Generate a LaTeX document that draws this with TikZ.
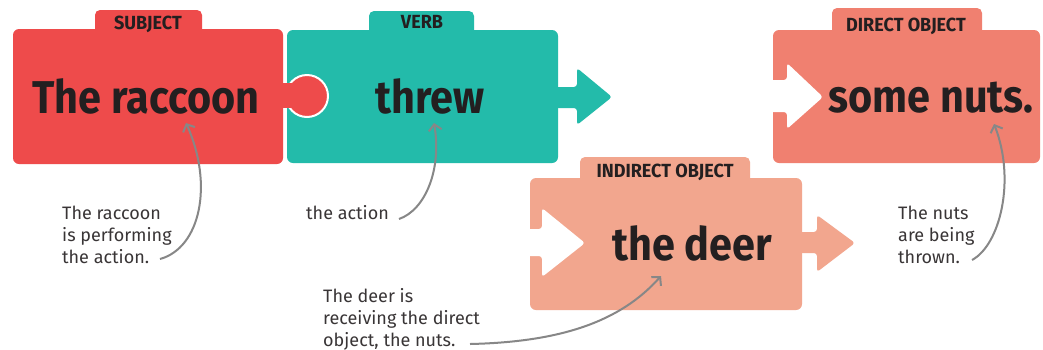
\documentclass[tikz,border=0pt]{standalone}
\usepackage{fontspec}
\setmainfont{Fira Sans}
\newfontfamily\condf[FakeStretch=0.9]{Fira Sans}
\newfontfamily\labf[FakeStretch=0.95]{Fira Sans}
\usetikzlibrary{arrows.meta}
\definecolor{cred}{RGB}{238,75,75}
\definecolor{cteal}{RGB}{35,187,170}
\definecolor{cdo}{RGB}{240,128,112}
\definecolor{cio}{RGB}{242,166,142}
\definecolor{cgray}{RGB}{135,135,135}
\definecolor{ctext}{RGB}{35,31,32}
\begin{document}
\begin{tikzpicture}[x=1pt,y=-1pt,
 word/.style={font=\condf\bfseries\fontsize{46}{50}\selectfont, text=ctext, inner sep=0, anchor=base},
 tag/.style={font=\labf\bfseries\fontsize{19}{21}\selectfont, text=ctext, inner sep=0, anchor=base},
 note/.style={font=\fontsize{18}{22}\selectfont, text=ctext!90, inner sep=0, align=left, anchor=base west},
 pointer/.style={draw=cgray, line width=2pt, -{Straight Barb[length=6pt,width=13pt]}},
 knobround/.style={rounded corners=3pt},
]
\useasboundingbox (0,0) rectangle (1043,349);
\fill[white] (0,0) rectangle (1043,349);

% verb piece (teal)
\fill[cteal, rounded corners=6pt] (287,30) rectangle (558,163);
\fill[cteal, rounded corners=5pt] (369,11) rectangle (474,40);
\fill[cteal, knobround] (550,87) -- (577,87) -- (577,68) -- (612,97) -- (577,125) -- (577,108) -- (550,108) -- cycle;

% subject piece (red)
\fill[cred, draw=white, line width=2pt] (307,96) circle[radius=21pt];
\fill[cred] (275,83) rectangle (296,108);
\fill[cred, rounded corners=6pt] (13,29) rectangle (283,164);
\fill[cred, rounded corners=5pt] (95,10) rectangle (202,40);

% direct object piece
\fill[cdo, rounded corners=6pt] (773,30) rectangle (1040,163);
\fill[cdo, rounded corners=5pt] (832,8) rectangle (982,40);
\fill[white, knobround] (760,80) -- (787,80) -- (787,63) -- (823,97) -- (787,129) -- (787,112) -- (760,112) -- cycle;

% indirect object piece
\fill[cio, rounded corners=6pt] (530,178) rectangle (802,310);
\fill[cio, rounded corners=5pt] (580,157) rectangle (750,190);
\fill[white, knobround] (520,229) -- (542,229) -- (542,208) -- (585,243) -- (542,277) -- (542,256) -- (520,256) -- cycle;
\fill[cio, knobround] (795,232) -- (817,232) -- (817,215) -- (855,243) -- (817,272) -- (817,253) -- (795,253) -- cycle;

% tab labels
\node[tag] (tsub) at (148,29) {SUBJECT};
\node[tag] (tverb) at (422,28) {VERB};
\node[tag] (tdo) at (906,31) {DIRECT OBJECT};
\node[tag] (tio) at (665,177) {INDIRECT OBJECT};

% words
\node[word] (wsub) at (146,113) {The raccoon};
\node[word] (wverb) at (430,113) {threw};
\node[word] (wdo) at (931,112) {some nuts.};
\node[word] (wio) at (692,260) {the deer};

% notes
\node[note] (nsub) at (62,263) {The raccoon\\is performing\\the action.};
\node[note] (nverb) at (306,219) {the action};
\node[note] (nio) at (323,346) {The deer is\\receiving the direct\\object, the nuts.};
\node[note] (ndo) at (898,263) {The nuts\\are being\\thrown.};

% pointer ends
\coordinate (psubs) at (160,259);
\coordinate (psube) at (186,123);
\coordinate (pverbs) at (399,219);
\coordinate (pverbe) at (434,123);
\coordinate (pios) at (470,344);
\coordinate (pioe) at (661,276);
\coordinate (pdos) at (972,260);
\coordinate (pdoe) at (994,124);

\draw[pointer] (psubs) .. controls (200,248) and (214,185) .. (psube);
\draw[pointer] (pverbs) .. controls (425,210) and (442,170) .. (pverbe);
\draw[pointer] (pios) .. controls (560,342) and (620,322) .. (pioe);
\draw[pointer] (pdos) .. controls (1000,245) and (1016,180) .. (pdoe);
\end{tikzpicture}
\end{document}
